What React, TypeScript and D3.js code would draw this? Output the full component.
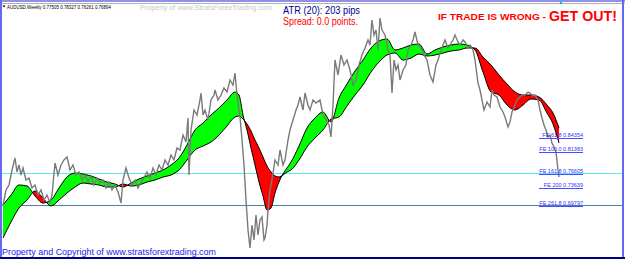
import React from "react";
import * as d3 from "d3";

const W = 625;
const H = 259;

// ---- data (weekly AUDUSD) ----
const priceWeek = [0,3,6,9,12,14,16,18,20,23,26,29,32,35,38,41,44,47,49,52,55,58,61,64,67,70,73,76,79,82,85,88,91,94,97,100,103,106,109,112,115,118,120,123,126,129,132,135,138,141,144,147,150,153,156,159,162,165,168,171,174,177,180,183,185,186,188,191,194,197,198,200,202,205,208,211,212,215,218,221,224,227,230,232,234,237,239,241,243,245,247,249,251,253,255,257,259,261,262,264,265,267,269,272,275,277,280,282,285,287,290,293,295,297,300,302,305,307,310,313,317,320,323,326,328,330,332,335,338,341,344,347,350,353,356,359,362,365,367,369,371,373,375,377,379,382,385,387,389,391,393,395,397,400,403,405,408,410,412,415,418,421,424,427,430,433,435,438,440,442,445,447,450,452,455,457,460,462,465,467,470,472,475,477,479,481,484,487,489,491,494,497,500,502,505,507,509,512,514,517,519,522,525,527,530,532,535,537,539,541,543,545,547,549,551,553,555,556];
const priceClose = [0.716,0.746,0.756,0.786,0.810,0.782,0.796,0.776,0.790,0.766,0.770,0.750,0.756,0.736,0.746,0.726,0.736,0.720,0.736,0.800,0.776,0.796,0.806,0.812,0.786,0.796,0.776,0.782,0.766,0.776,0.762,0.774,0.756,0.770,0.760,0.766,0.750,0.762,0.746,0.756,0.742,0.720,0.766,0.790,0.770,0.756,0.766,0.750,0.762,0.770,0.782,0.770,0.790,0.776,0.796,0.786,0.806,0.796,0.816,0.806,0.830,0.826,0.856,0.842,0.890,0.776,0.866,0.906,0.896,0.926,0.940,0.896,0.906,0.886,0.926,0.936,0.946,0.926,0.936,0.950,0.942,0.966,0.956,0.980,0.936,0.892,0.846,0.796,0.726,0.666,0.630,0.676,0.646,0.696,0.656,0.686,0.692,0.646,0.650,0.676,0.706,0.746,0.766,0.806,0.796,0.826,0.796,0.806,0.846,0.866,0.886,0.906,0.916,0.932,0.906,0.940,0.916,0.906,0.926,0.920,0.926,0.896,0.886,0.876,0.852,0.916,1.006,0.976,1.016,0.996,1.006,0.986,0.956,0.966,0.996,1.016,1.030,1.046,1.036,1.086,1.056,1.066,1.026,1.090,1.066,1.056,1.026,1.016,0.940,1.006,0.986,0.996,0.966,0.986,0.996,1.026,1.036,1.046,1.062,1.036,1.030,1.016,1.006,0.976,0.962,0.996,1.006,1.026,1.036,1.046,1.030,1.036,1.046,1.056,1.042,1.036,1.046,1.042,1.030,1.036,1.026,1.006,0.960,0.946,0.926,0.906,0.922,0.912,0.946,0.936,0.932,0.912,0.902,0.892,0.872,0.882,0.902,0.916,0.926,0.932,0.936,0.936,0.942,0.940,0.934,0.936,0.926,0.906,0.890,0.876,0.866,0.852,0.856,0.840,0.832,0.822,0.786,0.772];

const maWeek = [0,8,16,24,32,40,48,56,64,72,80,88,96,104,112,120,128,136,144,152,160,168,176,184,192,200,208,216,224,232,236,240,244,248,252,256,260,264,268,272,276,280,284,288,296,304,312,320,328,336,344,352,360,368,376,384,392,400,408,416,424,432,440,448,456,464,472,480,488,496,504,512,520,528,536,544,550,556];
const maFast = [0.716,0.736,0.756,0.754,0.734,0.720,0.726,0.750,0.772,0.780,0.778,0.774,0.768,0.762,0.758,0.752,0.760,0.768,0.774,0.780,0.786,0.796,0.810,0.836,0.866,0.880,0.896,0.910,0.926,0.942,0.936,0.896,0.866,0.830,0.796,0.762,0.734,0.706,0.710,0.740,0.762,0.778,0.790,0.802,0.834,0.870,0.890,0.902,0.882,0.930,0.958,0.984,1.006,1.030,1.044,1.048,1.026,1.030,1.036,1.038,1.018,1.026,1.032,1.036,1.038,1.036,1.026,0.982,0.942,0.936,0.916,0.906,0.916,0.928,0.926,0.900,0.878,0.840];
const maSlow = [0.650,0.682,0.710,0.726,0.744,0.730,0.714,0.726,0.740,0.752,0.760,0.758,0.756,0.752,0.752,0.758,0.754,0.756,0.762,0.766,0.772,0.776,0.786,0.806,0.826,0.834,0.842,0.856,0.874,0.892,0.894,0.888,0.878,0.864,0.846,0.830,0.812,0.794,0.782,0.774,0.772,0.776,0.782,0.786,0.806,0.832,0.850,0.866,0.888,0.892,0.914,0.936,0.956,0.982,1.002,1.016,1.020,1.006,1.010,1.018,1.014,1.016,1.020,1.024,1.026,1.030,1.030,1.012,0.996,0.976,0.958,0.942,0.936,0.936,0.932,0.916,0.900,0.870];

const levelPrices = [0.780, 0.716];
const levelColors = ["#5ee8f0", "#4a7fb0"];

const feLabels = ["FE 61.8 0.84354", "FE 100.0 0.81383", "FE 161.8 0.76605", "FE 200 0.73639", "FE 261.8 0.69797"];
const fePrices = [0.850, 0.822, 0.778, 0.750, 0.714];
const feWeekStart = 536;
const feWeekEnd = 580;

const headerText = "AUDUSD,Weekly  0.77505 0.78327 0.76261 0.76894";
const watermark = "Property of www.StratsForexTrading.com";
const atrText = "ATR (20): 203 pips";
const spreadText = "Spread: 0.0 points.";
const warnText = "IF TRADE IS WRONG - ";
const getOutText = "GET OUT!";
const footerText = "Property and Copyright of www.stratsforextrading.com";

const FONT = "'Liberation Sans', Arial, sans-serif";

export default function App() {
  const x = d3.scaleLinear().domain([0, 556]).range([3, 559]);
  const y = d3.scaleLinear().domain([0.608, 1.10]).range([259, 13]);

  const ma = maWeek.map((w, i) => ({ w, f: maFast[i], s: maSlow[i] }));
  const price = priceWeek.map((w, i) => ({ w, p: priceClose[i] }));
  const curve = d3.curveMonotoneX;

  const lineF = d3.line<any>().x((d) => x(d.w)).y((d) => y(d.f)).curve(curve);
  const lineS = d3.line<any>().x((d) => x(d.w)).y((d) => y(d.s)).curve(curve);
  const clipBelowF = d3.area<any>().x((d) => x(d.w)).y0(H).y1((d) => y(d.f)).curve(curve);
  const clipAboveF = d3.area<any>().x((d) => x(d.w)).y0(0).y1((d) => y(d.f)).curve(curve);
  const aboveS = d3.area<any>().x((d) => x(d.w)).y0(0).y1((d) => y(d.s)).curve(curve);
  const belowS = d3.area<any>().x((d) => x(d.w)).y0(H).y1((d) => y(d.s)).curve(curve);
  const linePrice = d3.line<any>().x((d) => x(d.w)).y((d) => y(d.p));

  return (
    <svg
      width={W}
      height={H}
      viewBox={`0 0 ${W} ${H}`}
      style={{ position: "absolute", left: 0, top: 0, display: "block", background: "#fff" }}
    >
      <defs>
        <clipPath id="clipBelowF">
          <path d={clipBelowF(ma) || ""} />
        </clipPath>
        <clipPath id="clipAboveF">
          <path d={clipAboveF(ma) || ""} />
        </clipPath>
      </defs>
      <rect x={0} y={0} width={W} height={H} fill="#ffffff" />

      {/* horizontal levels */}
      {levelPrices.map((p, i) => (
        <line key={i} x1={2} x2={622} y1={Math.round(y(p)) + 0.5} y2={Math.round(y(p)) + 0.5} stroke={levelColors[i]} strokeWidth={1} />
      ))}

      {/* MA band */}
      <path d={aboveS(ma) || ""} fill="#00ff00" clipPath="url(#clipBelowF)" />
      <path d={belowS(ma) || ""} fill="#ff0000" clipPath="url(#clipAboveF)" />
      <path d={lineS(ma) || ""} fill="none" stroke="#000" strokeWidth={1} />
      <path d={lineF(ma) || ""} fill="none" stroke="#000" strokeWidth={1} />

      {/* price */}
      <path d={linePrice(price) || ""} fill="none" stroke="#7a7a7a" strokeWidth={1.4} strokeLinejoin="miter" />

      {/* FE levels */}
      {fePrices.map((p, i) => {
        const yy = Math.round(y(p)) + 0.5;
        return (
          <g key={i}>
            <line x1={x(feWeekStart)} x2={x(feWeekEnd)} y1={yy} y2={yy} stroke="#4a4aff" strokeWidth={1} />
            <text x={x(feWeekEnd)} y={yy - 1.5} textAnchor="end" fontSize={5.5} fill="#3030ff" fontFamily={FONT}>
              {feLabels[i]}
            </text>
          </g>
        );
      })}

      {/* frame */}
      <rect x={0} y={0} width={W} height={2} fill="#9090e8" />
      <line x1={0} x2={W} y1={3.5} y2={3.5} stroke="#b0b0b0" strokeWidth={1} />
      <rect x={0} y={0} width={2} height={H} fill="#6868f0" />
      <rect x={622} y={0} width={2} height={H} fill="#6868f0" />
      <rect x={0} y={257} width={W} height={2} fill="#000080" />
      <circle cx={561} cy={3} r={1.2} fill="#00c0d0" />

      {/* header */}
      <path d="M2.5,5.5 L5.5,5.5 L4,7.5 Z" fill="#000" />
      <text x={7} y={9} fontSize={6} fontFamily={FONT} fill="#000" textLength={104} lengthAdjust="spacingAndGlyphs">
        {headerText}
      </text>
      <text x={140} y={10} fontSize={7.5} fontFamily={FONT} fill="#c8c8c8" textLength={132} lengthAdjust="spacingAndGlyphs">
        {watermark}
      </text>
      <text x={283} y={14} fontSize={10} fontFamily={FONT} fill="#000090" textLength={77} lengthAdjust="spacingAndGlyphs">
        {atrText}
      </text>
      <text x={283} y={24.5} fontSize={10} fontFamily={FONT} fill="#ff0000" textLength={75} lengthAdjust="spacingAndGlyphs">
        {spreadText}
      </text>
      <text x={438} y={20} fontSize={9} fontWeight="bold" fontFamily={FONT} fill="#ff0000" textLength={108} lengthAdjust="spacingAndGlyphs">
        {warnText}
      </text>
      <text x={549} y={21} fontSize={14} fontWeight="bold" fontFamily={FONT} fill="#ff0000" textLength={68} lengthAdjust="spacingAndGlyphs">
        {getOutText}
      </text>
      <text x={2} y={255} fontSize={9.5} fontFamily={FONT} fill="#1a1ae6" textLength={214} lengthAdjust="spacingAndGlyphs">
        {footerText}
      </text>
    </svg>
  );
}
